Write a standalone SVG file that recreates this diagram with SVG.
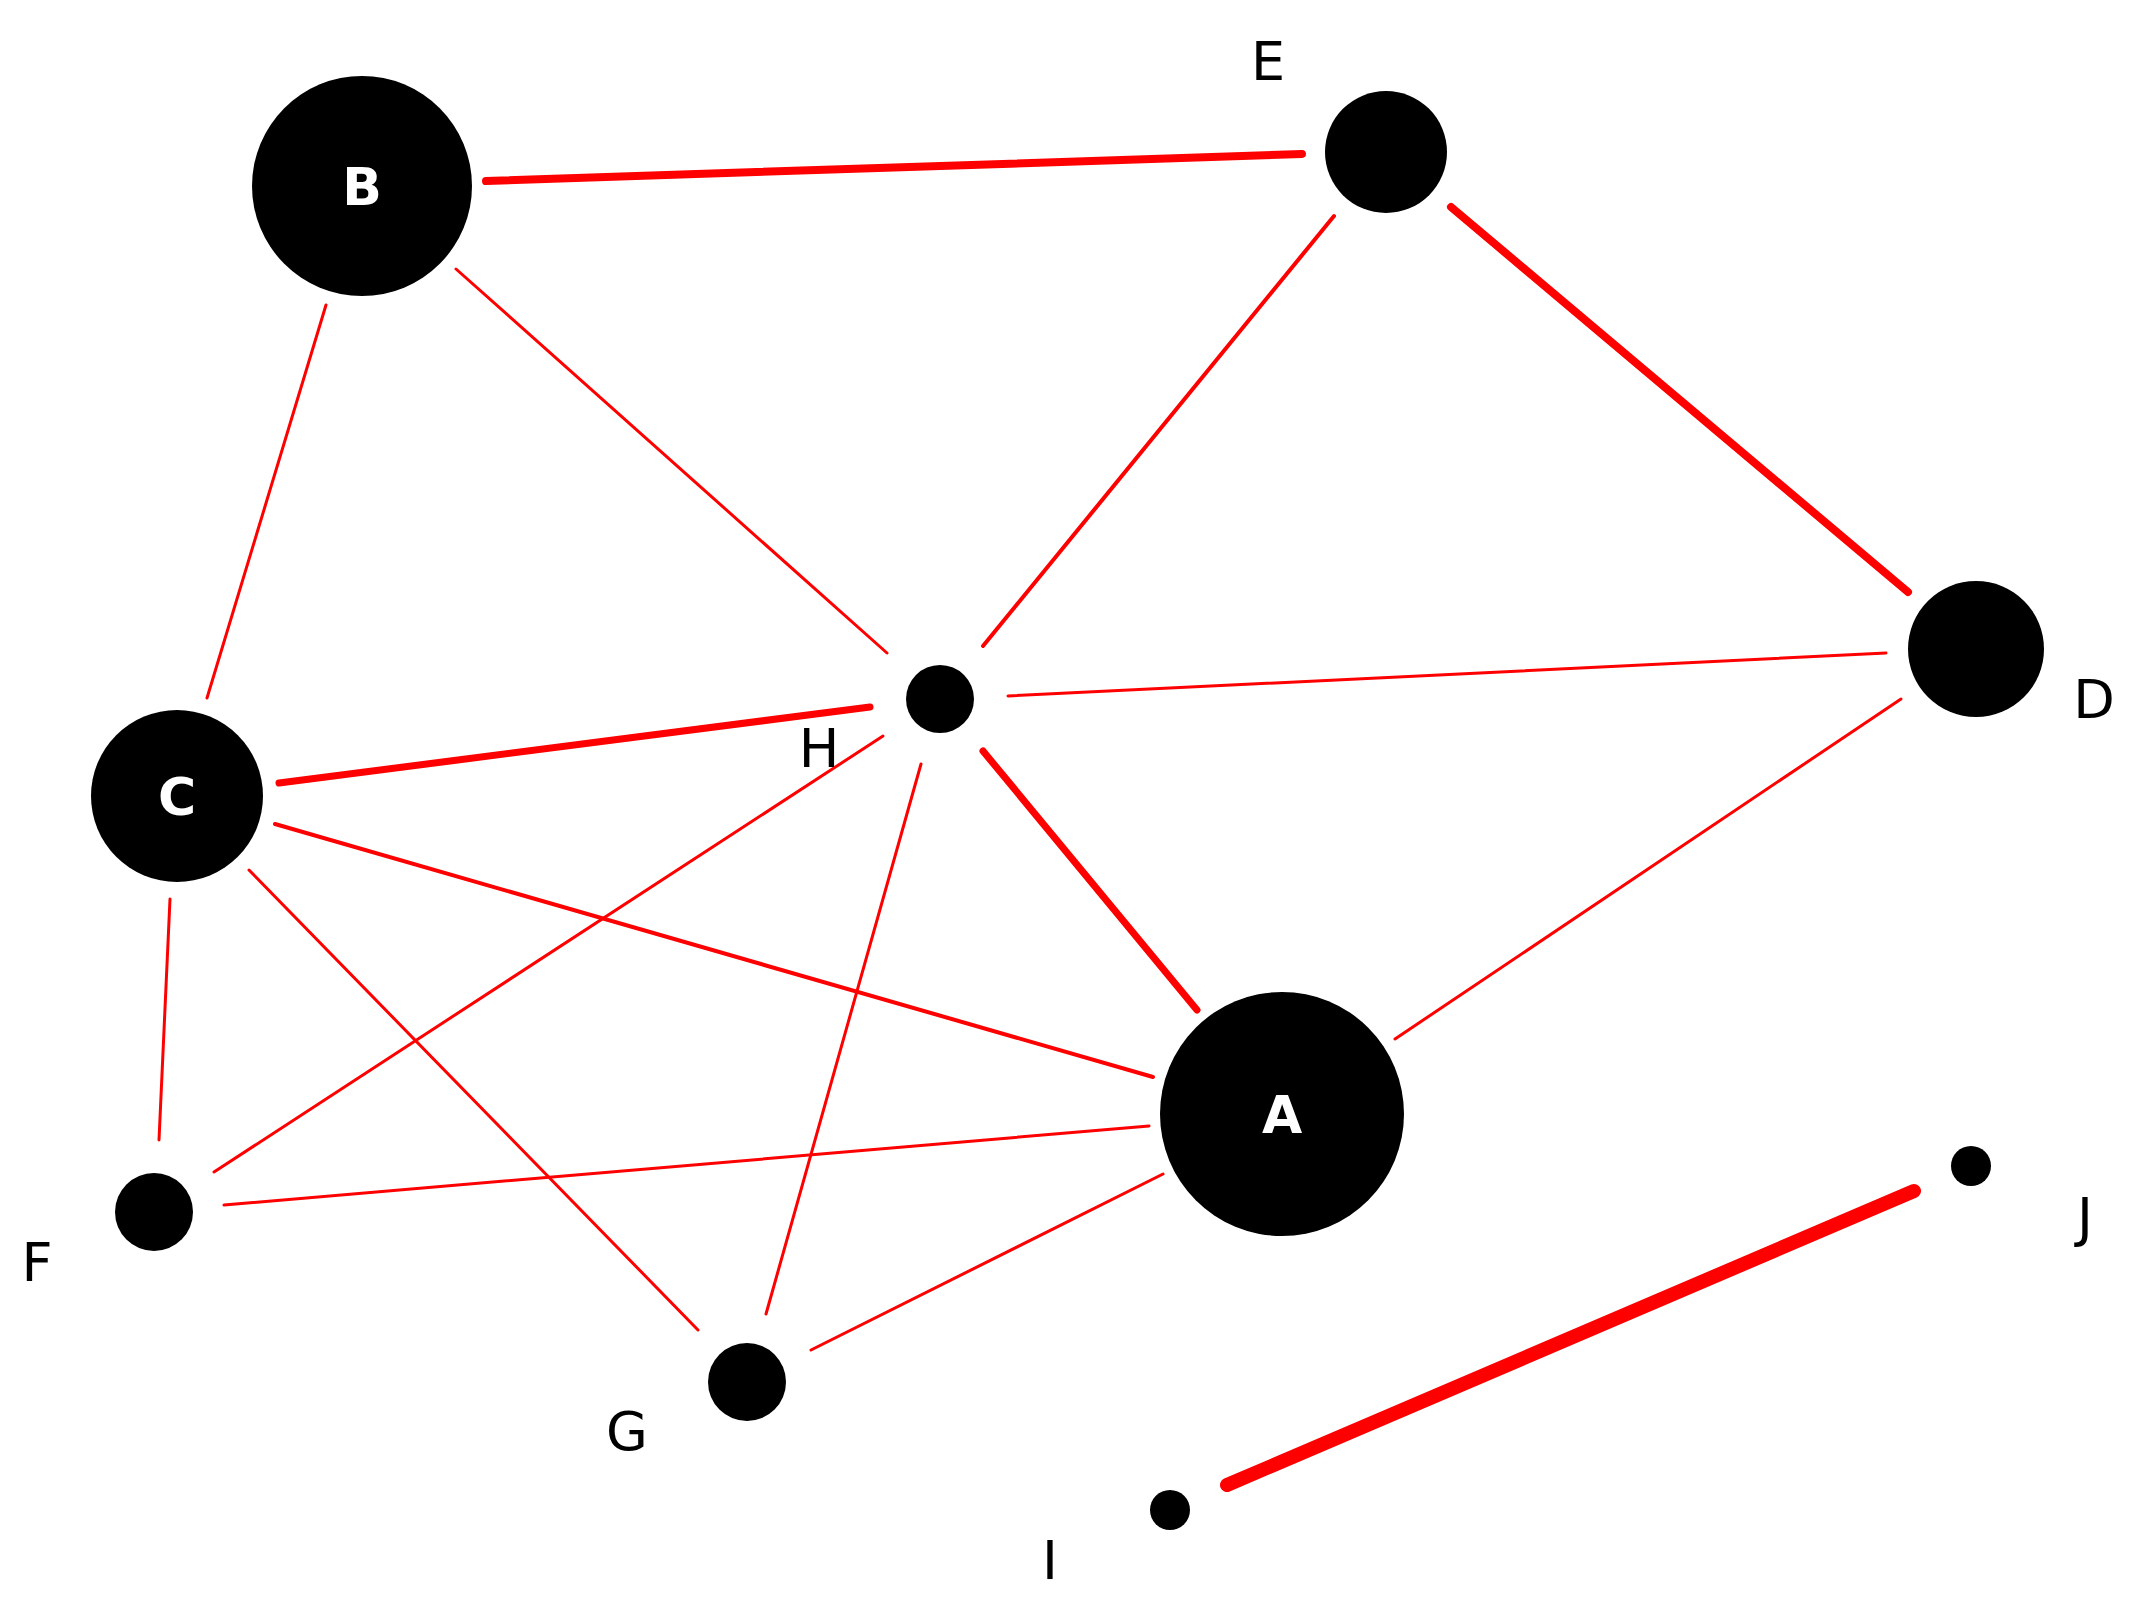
<svg xmlns="http://www.w3.org/2000/svg" width="2132" height="1614" viewBox="0 0 2132 1614">
<style>
.e{stroke:#ff0000;stroke-linecap:round;fill:none}
.n{fill:#000}
.l{font-family:"DejaVu Sans",sans-serif;font-size:54px;fill:#000;text-anchor:middle}
.w{font-family:"DejaVu Sans",sans-serif;font-size:52px;font-weight:bold;fill:#fff;text-anchor:middle}
</style>
<rect width="2132" height="1614" fill="#fff"/>
<g id="edges">
<line class="e" x1="486" y1="181" x2="1302" y2="154" stroke-width="8"/>
<line class="e" x1="1451" y1="207" x2="1908" y2="592" stroke-width="8"/>
<line class="e" x1="456" y1="269" x2="887" y2="653" stroke-width="3"/>
<line class="e" x1="326" y1="305" x2="207" y2="698" stroke-width="3"/>
<line class="e" x1="1334" y1="216" x2="983" y2="646" stroke-width="4"/>
<line class="e" x1="1008" y1="696" x2="1886" y2="653" stroke-width="3"/>
<line class="e" x1="279" y1="783" x2="870" y2="707" stroke-width="7"/>
<line class="e" x1="983" y1="751" x2="1197" y2="1010" stroke-width="7"/>
<line class="e" x1="275" y1="824" x2="1153" y2="1077" stroke-width="4"/>
<line class="e" x1="1901" y1="699" x2="1395" y2="1039" stroke-width="3"/>
<line class="e" x1="170" y1="899" x2="159" y2="1140" stroke-width="3"/>
<line class="e" x1="249" y1="870" x2="698" y2="1330" stroke-width="3"/>
<line class="e" x1="883" y1="736" x2="214" y2="1172" stroke-width="3"/>
<line class="e" x1="921" y1="764" x2="766" y2="1314" stroke-width="3"/>
<line class="e" x1="224" y1="1205" x2="1149" y2="1126" stroke-width="3"/>
<line class="e" x1="811" y1="1350" x2="1163" y2="1174" stroke-width="3"/>
<line class="e" x1="1227" y1="1485" x2="1914" y2="1191" stroke-width="14"/>
</g>
<g id="B"><circle class="n" cx="362" cy="186" r="110"/><text class="w" x="362" y="205">B</text></g>
<g id="E"><circle class="n" cx="1386" cy="152" r="61"/><text class="l" x="1268" y="80">E</text></g>
<g id="D"><circle class="n" cx="1976" cy="649" r="68"/><text class="l" x="2094" y="718">D</text></g>
<g id="H"><circle class="n" cx="940" cy="699" r="34"/><text class="l" x="819" y="767">H</text></g>
<g id="C"><circle class="n" cx="177" cy="796" r="86"/><text class="w" x="177" y="815">C</text></g>
<g id="A"><circle class="n" cx="1282" cy="1114" r="122"/><text class="w" x="1282" y="1133">A</text></g>
<g id="F"><circle class="n" cx="154" cy="1212" r="39"/><text class="l" x="37" y="1281">F</text></g>
<g id="G"><circle class="n" cx="747" cy="1382" r="39"/><text class="l" x="627" y="1450">G</text></g>
<g id="I"><circle class="n" cx="1170" cy="1510" r="20"/><text class="l" x="1050" y="1579">I</text></g>
<g id="J"><circle class="n" cx="1971" cy="1166" r="20"/><text class="l" x="2085" y="1236">J</text></g>
</svg>
